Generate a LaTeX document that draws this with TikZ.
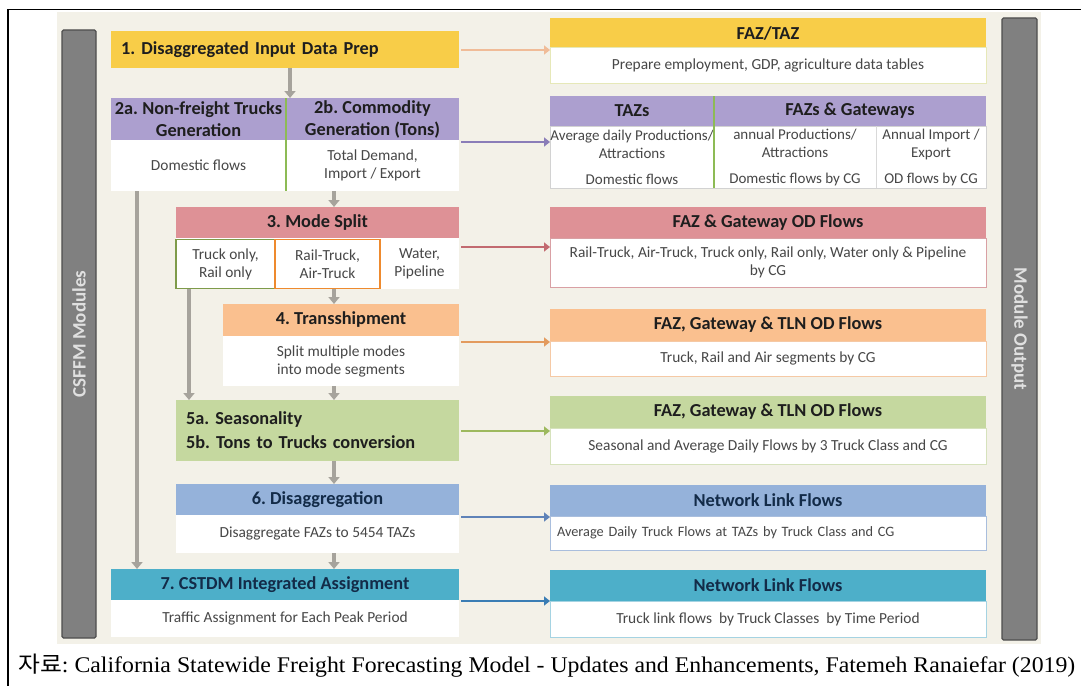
\documentclass[tikz,border=0pt]{standalone}
\usepackage{fontspec}
\setmainfont{Carlito}
\newfontfamily\capserif{Liberation Serif}
\newfontfamily\capcjk{Noto Sans CJK KR}
\usetikzlibrary{arrows.meta}
\frenchspacing

\definecolor{panel}{HTML}{F3F1E8}
\definecolor{cYel}{HTML}{F8CD48}
\definecolor{cYelL}{HTML}{E6E8B8}
\definecolor{cPur}{HTML}{AC9FCF}
\definecolor{cPnk}{HTML}{DE9196}
\definecolor{cPnkL}{HTML}{D9A0A4}
\definecolor{cOrg}{HTML}{FAC08F}
\definecolor{cOrgL}{HTML}{F5C9A5}
\definecolor{cGrn}{HTML}{C5D89F}
\definecolor{cGrnL}{HTML}{D6E2BC}
\definecolor{cBlu}{HTML}{95B2DA}
\definecolor{cBluL}{HTML}{A9BEDD}
\definecolor{cTeal}{HTML}{4DAFC9}
\definecolor{cTealL}{HTML}{A5D3E2}
\definecolor{cDiv}{HTML}{8DBB55}
\definecolor{cGrnD}{HTML}{7E9B4A}
\definecolor{cOrgD}{HTML}{EE8A2E}
\definecolor{barfill}{HTML}{808080}
\definecolor{bardraw}{HTML}{4E4E4E}
\definecolor{garr}{HTML}{A6A39C}
\definecolor{txtd}{HTML}{1E1E1E}
\definecolor{txtb}{HTML}{474747}
\definecolor{navy}{HTML}{132B48}
\definecolor{aYel}{HTML}{F0BC98}
\definecolor{aPur}{HTML}{8A7DB8}
\definecolor{aPnk}{HTML}{C26A70}
\definecolor{aOrg}{HTML}{E39B5E}
\definecolor{aGrn}{HTML}{9DB95E}
\definecolor{aBlu}{HTML}{5F83B8}
\definecolor{aTeal}{HTML}{3A7DB4}

\begin{document}
\begin{tikzpicture}[x=1pt,y=-1pt,
  bx/.style={anchor=north west,inner sep=0pt,outer sep=0pt,align=center},
  hd/.style={bx,font=\bfseries\fontsize{18.3}{22}\selectfont,text=txtd},
  bd/.style={bx,fill=white,font=\fontsize{15.4}{18}\selectfont,text=txtb},
  garrow/.style={draw=garr,line width=3.5pt,-{Triangle[length=7pt,width=11pt]}},
  carrow/.style={line width=2.8pt,shorten <=2pt,-{Triangle[length=6pt,width=9pt]}},
  bartext/.style={font=\bfseries\fontsize{19}{21}\selectfont,text=white!88!black},
]
\useasboundingbox (0,0) rectangle (1081,685);
\fill[white] (0,0) rectangle (1081,685);
\draw[line width=1.4pt] (8,700) -- (8,9.5) -- (1090,9.5);

% background panel and the two side bars
\node[bx,fill=panel,minimum width=984,minimum height=632] (panel) at (57,12) {};
\node[bx,fill=barfill,draw=bardraw,line width=1.2pt,rounded corners=1.5pt,
      minimum width=34,minimum height=608] (lbar) at (62,30) {};
\node[bartext,rotate=90] (ltxt) at (lbar.center) {CSFFM Modules};
\node[bx,fill=barfill,draw=bardraw,line width=1.2pt,rounded corners=1.5pt,
      minimum width=35,minimum height=622] (rbar) at (1002,18) {};
\node[bartext,rotate=-90] (rtxt) at (rbar.center) {Module Output};

% ---- module column ----
\node[hd,fill=cYel,minimum height=37,text width=328,inner xsep=10pt,align=left] (n1) at (111,31) {1. Disaggregated Input Data Prep};

\node[hd,fill=cPur,minimum width=348,minimum height=42] (n2h) at (111,98) {};
\node[hd,minimum width=175,minimum height=42] (n2a) at (111,98) {2a. Non-freight Trucks\\Generation};
\node[hd,minimum width=173,minimum height=42] (n2b) at (286,98) {2b. Commodity\\Generation (Tons)};
\node[bd,minimum width=348,minimum height=51] (n2w) at (111,140) {};
\node[bd,fill=none,minimum width=175,minimum height=51] (n2wa) at (111,140) {Domestic flows};
\node[bd,fill=none,minimum width=173,minimum height=51] (n2wb) at (286,140) {Total Demand,\\Import / Export};
\draw[draw=cDiv,line width=2.5pt] (n2a.north east) -- (n2wa.south east);

\node[hd,fill=cPnk,minimum width=283,minimum height=31] (n3) at (176,207) {3. Mode Split};
\node[bd,minimum width=283,minimum height=51] (n3w) at (176,238) {};
\node[bd,fill=none,minimum width=79,minimum height=51] (c3) at (380,238) {Water,\\Pipeline};
\node[bd,fill=none,draw=cGrnD,line width=1.4pt,minimum width=99,minimum height=49] (c1) at (176,239.5) {Truck only,\\Rail only};
\node[bd,fill=none,draw=cOrgD,line width=1.4pt,minimum width=105,minimum height=49] (c2) at (275,239.5) {Rail-Truck,\\Air-Truck};

\node[hd,fill=cOrg,minimum width=236,minimum height=32] (n4) at (223,304) {4. Transshipment};
\node[bd,minimum width=236,minimum height=50] (n4w) at (223,336) {Split multiple modes\\into mode segments};

\node[hd,fill=cGrn,minimum height=61,text width=263,inner xsep=10pt,align=left,
      font=\bfseries\fontsize{18.3}{24}\selectfont] (n5) at (176,400) {5a. Seasonality\\5b. Tons to Trucks conversion};

\node[hd,fill=cBlu,text=navy,minimum width=283,minimum height=31] (n6) at (176,484) {6. Disaggregation};
\node[bd,minimum width=283,minimum height=38] (n6w) at (176,515) {Disaggregate FAZs to 5454 TAZs};

\node[hd,fill=cTeal,text=navy,minimum width=348,minimum height=31] (n7) at (111,569) {7. CSTDM Integrated Assignment};
\node[bd,minimum width=348,minimum height=37] (n7w) at (111,600) {Traffic Assignment for Each Peak Period};

% ---- output column ----
\node[hd,fill=cYel,minimum width=436,minimum height=30] (r1) at (550,18) {FAZ/TAZ};
\node[bd,draw=cYelL,line width=1pt,minimum width=436,minimum height=35] (r1w) at (550,48) {Prepare employment, GDP, agriculture data tables};

\node[hd,fill=cPur,minimum width=436,minimum height=30] (r2) at (550,96) {};
\node[hd,minimum width=164,minimum height=30] (r2a) at (550,96) {TAZs};
\node[hd,minimum width=272,minimum height=30] (r2b) at (714,96) {FAZs \& Gateways};
\node[bd,draw=gray!35,line width=1pt,minimum width=436,minimum height=62] (r2w) at (550,126) {};
\node[bd,fill=none,font=\fontsize{15}{18}\selectfont,minimum width=164,minimum height=62] (r2c1) at (550,126) {Average daily Productions/\\Attractions\\[8pt]Domestic flows};
\node[bd,fill=none,font=\fontsize{15}{18}\selectfont,minimum width=162,minimum height=62] (r2c2) at (714,126) {annual Productions/\\Attractions\\[8pt]Domestic flows by CG};
\node[bd,fill=none,font=\fontsize{15}{18}\selectfont,minimum width=110,minimum height=62] (r2c3) at (876,126) {Annual Import /\\Export\\[8pt]OD flows by CG};
\draw[draw=gray!30,line width=1pt] (r2c2.north east) -- (r2c2.south east);
\draw[draw=cDiv,line width=2pt] (r2a.north east) -- (r2c1.south east);

\node[hd,fill=cPnk,minimum width=436,minimum height=31] (r3) at (550,207) {FAZ \& Gateway OD Flows};
\node[bd,draw=cPnkL,line width=1pt,minimum width=436,minimum height=49] (r3w) at (550,238) {Rail-Truck, Air-Truck, Truck only, Rail only, Water only \& Pipeline\\by CG};

\node[hd,fill=cOrg,minimum width=436,minimum height=32] (r4) at (550,309) {FAZ, Gateway \& TLN OD Flows};
\node[bd,draw=cOrgL,line width=1pt,minimum width=436,minimum height=35] (r4w) at (550,341) {Truck, Rail and Air segments by CG};

\node[hd,fill=cGrn,minimum width=436,minimum height=32] (r5) at (550,396) {FAZ, Gateway \& TLN OD Flows};
\node[bd,draw=cGrnL,line width=1pt,minimum width=436,minimum height=36] (r5w) at (550,428) {Seasonal and Average Daily Flows by 3 Truck Class and CG};

\node[hd,fill=cBlu,text=navy,minimum width=436,minimum height=31] (r6) at (550,485) {Network Link Flows};
\node[bd,draw=cBluL,line width=1pt,minimum height=34,text width=422,inner xsep=7pt,align=left,
      font=\fontsize{14.3}{18}\selectfont] (r6w) at (550,516) {Average Daily Truck Flows at TAZs by Truck Class and CG};

\node[hd,fill=cTeal,text=navy,minimum width=436,minimum height=31] (r7) at (550,570) {Network Link Flows};
\node[bd,draw=cTealL,line width=1pt,minimum width=436,minimum height=36] (r7w) at (550,601) {Truck link flows\ \ by Truck Classes\ \ by Time Period};

% ---- flow arrows inside the module column ----
\draw[garrow] (n1.south -| 290,0) -- (n2h.north -| 290,0);
\draw[garrow] (n2wa.south -| 137,0) -- (n7.north -| 137,0);
\draw[garrow] (n2wb.south -| 334,0) -- (n3.north -| 334,0);
\draw[garrow] (c1.south -| 189,0) -- (n5.north -| 189,0);
\draw[garrow] (n3w.south -| 334,0) -- (n4.north -| 334,0);
\draw[garrow] (n4w.south -| 334,0) -- (n5.north -| 334,0);
\draw[garrow] (n5.south -| 334,0) -- (n6.north -| 334,0);
\draw[garrow] (n6w.south -| 334,0) -- (n7.north -| 334,0);

% ---- module to output arrows ----
\draw[carrow,draw=aYel] (n1.east |- 0,50) -- (r1w.west |- 0,50);
\draw[carrow,draw=aPur] (n2w.east |- 0,142) -- (r2w.west |- 0,142);
\draw[carrow,draw=aPnk] (n3w.east |- 0,247) -- (r3w.west |- 0,247);
\draw[carrow,draw=aOrg] (n4w.east |- 0,342) -- (r4w.west |- 0,342);
\draw[carrow,draw=aGrn] (n5.east |- 0,431) -- (r5w.west |- 0,431);
\draw[carrow,draw=aBlu] (n6w.east |- 0,517) -- (r6w.west |- 0,517);
\draw[carrow,draw=aTeal] (n7w.east |- 0,601) -- (r7w.west |- 0,601);

% ---- source line ----
\node[anchor=base west,inner sep=0pt] (cap) at (18,672)
  {\resizebox{1057pt}{18.5pt}{\fontsize{20}{20}\selectfont{\capcjk 자료}\capserif: California Statewide Freight Forecasting Model - Updates and Enhancements, Fatemeh Ranaiefar (2019)}};
\end{tikzpicture}
\end{document}
